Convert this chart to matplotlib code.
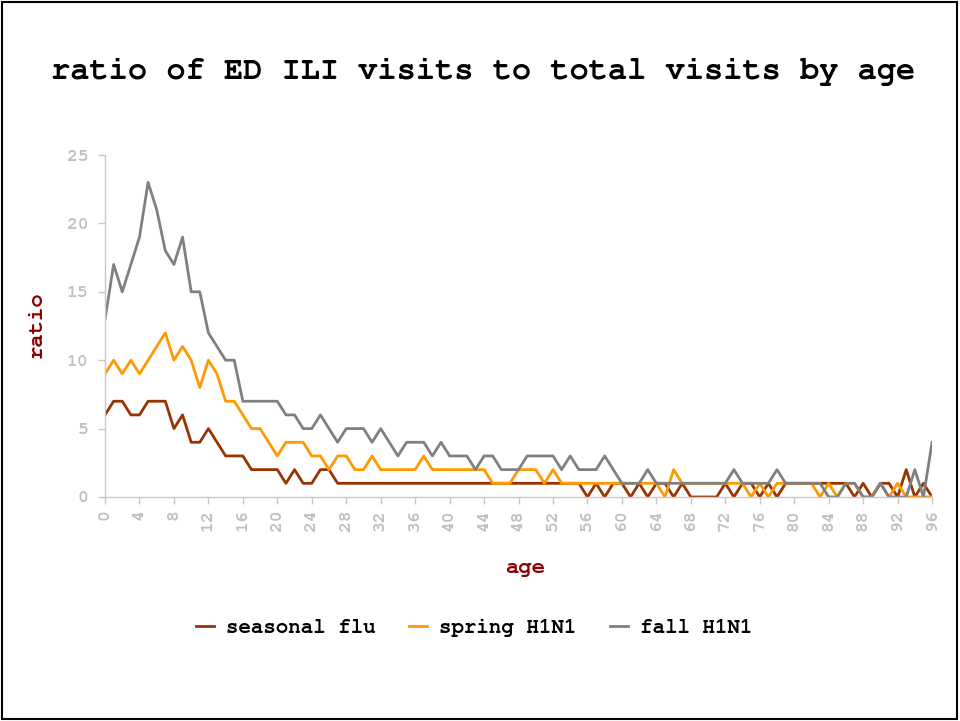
import matplotlib
matplotlib.use('Agg')
import matplotlib.pyplot as plt
from matplotlib import font_manager
from matplotlib.patches import Rectangle

# courier-like font if there is one, else the metric twin
installed = {f.name for f in font_manager.fontManager.ttflist}
mono = [n for n in ['Courier New', 'Nimbus Mono PS', 'FreeMono', 'Liberation Mono'] if n in installed]
plt.rcParams['font.family'] = mono + ['DejaVu Sans Mono']
plt.rcParams['font.weight'] = 'bold'

# data, one value per age 0..96
ages = list(range(0, 97))

seasonal_flu = [6, 7, 7, 6, 6, 7, 7, 7, 5, 6,
                4, 4, 5, 4, 3, 3, 3, 2, 2, 2,
                2, 1, 2, 1, 1, 2, 2, 1, 1, 1,
                1, 1, 1, 1, 1, 1, 1, 1, 1, 1,
                1, 1, 1, 1, 1, 1, 1, 1, 1, 1,
                1, 1, 1, 1, 1, 1, 0, 1, 0, 1,
                1, 0, 1, 0, 1, 1, 0, 1, 0, 0,
                0, 0, 1, 0, 1, 1, 0, 1, 0, 1,
                1, 1, 1, 1, 1, 1, 1, 0, 1, 0,
                1, 1, 0, 2, 0, 1, 0]

spring_h1n1 = [9, 10, 9, 10, 9, 10, 11, 12, 10, 11,
               10, 8, 10, 9, 7, 7, 6, 5, 5, 4,
               3, 4, 4, 4, 3, 3, 2, 3, 3, 2,
               2, 3, 2, 2, 2, 2, 2, 3, 2, 2,
               2, 2, 2, 2, 2, 1, 1, 1, 2, 2,
               2, 1, 2, 1, 1, 1, 1, 1, 1, 1,
               1, 1, 1, 1, 1, 0, 2, 1, 1, 1,
               1, 1, 1, 1, 1, 0, 1, 0, 1, 1,
               1, 1, 1, 0, 1, 0, 1, 1, 0, 0,
               1, 0, 1, 0, 0, 0, 0]

fall_h1n1 = [13, 17, 15, 17, 19, 23, 21, 18, 17, 19,
             15, 15, 12, 11, 10, 10, 7, 7, 7, 7,
             7, 6, 6, 5, 5, 6, 5, 4, 5, 5,
             5, 4, 5, 4, 3, 4, 4, 4, 3, 4,
             3, 3, 3, 2, 3, 3, 2, 2, 2, 3,
             3, 3, 3, 2, 3, 2, 2, 2, 3, 2,
             1, 1, 1, 2, 1, 1, 1, 1, 1, 1,
             1, 1, 1, 2, 1, 1, 1, 1, 2, 1,
             1, 1, 1, 1, 0, 0, 1, 1, 0, 0,
             1, 0, 0, 0, 2, 0, 4]

x_ticks = list(range(0, 97, 4))
y_ticks = [0, 5, 10, 15, 20, 25]

fig = plt.figure(figsize=(9.6, 7.21), dpi=100)
ax = fig.add_axes([0.1094, 0.3107, 0.8615, 0.4743])

ax.plot(ages, seasonal_flu, color='#993300', lw=2, label='seasonal flu')
ax.plot(ages, spring_h1n1, color='#ff9900', lw=2, label='spring H1N1')
ax.plot(ages, fall_h1n1, color='#808080', lw=2, label='fall H1N1')

ax.set_xlim(0, 96)
ax.set_ylim(0, 25)
ax.set_xticks(x_ticks)
ax.set_yticks(y_ticks)
ax.tick_params(axis='both', colors='#c8c8c8', labelcolor='#bfbfbf',
               labelsize=13, length=5, width=1, direction='out')
ax.tick_params(axis='y', pad=7)
ax.tick_params(axis='x', pad=4, labelrotation=90)
for lab in ax.get_xticklabels() + ax.get_yticklabels():
    lab.set_fontweight('bold')

for s in ['top', 'right']:
    ax.spines[s].set_visible(False)
for s in ['left', 'bottom']:
    ax.spines[s].set_color('#c8c8c8')
    ax.spines[s].set_linewidth(1)

fig.text(0.503, 0.9, 'ratio of ED ILI visits to total visits by age',
         ha='center', va='center', fontsize=23, fontweight='bold', color='black')
fig.text(0.0385, 0.549, 'ratio', rotation=90, ha='center', va='center',
         fontsize=16, fontweight='bold', color='#8b0000')
fig.text(0.547, 0.212, 'age', ha='center', va='center',
         fontsize=16, fontweight='bold', color='#8b0000')

fig.legend(loc='center', bbox_to_anchor=(0.494, 0.129), ncol=3, frameon=False,
           fontsize=15, handlelength=0.85, handletextpad=0.6, columnspacing=1.6)

fig.add_artist(Rectangle((0.002, 0.003), 0.995, 0.994, transform=fig.transFigure,
                         fill=False, edgecolor='black', linewidth=1.5))

fig.savefig('out.png', dpi=100)
